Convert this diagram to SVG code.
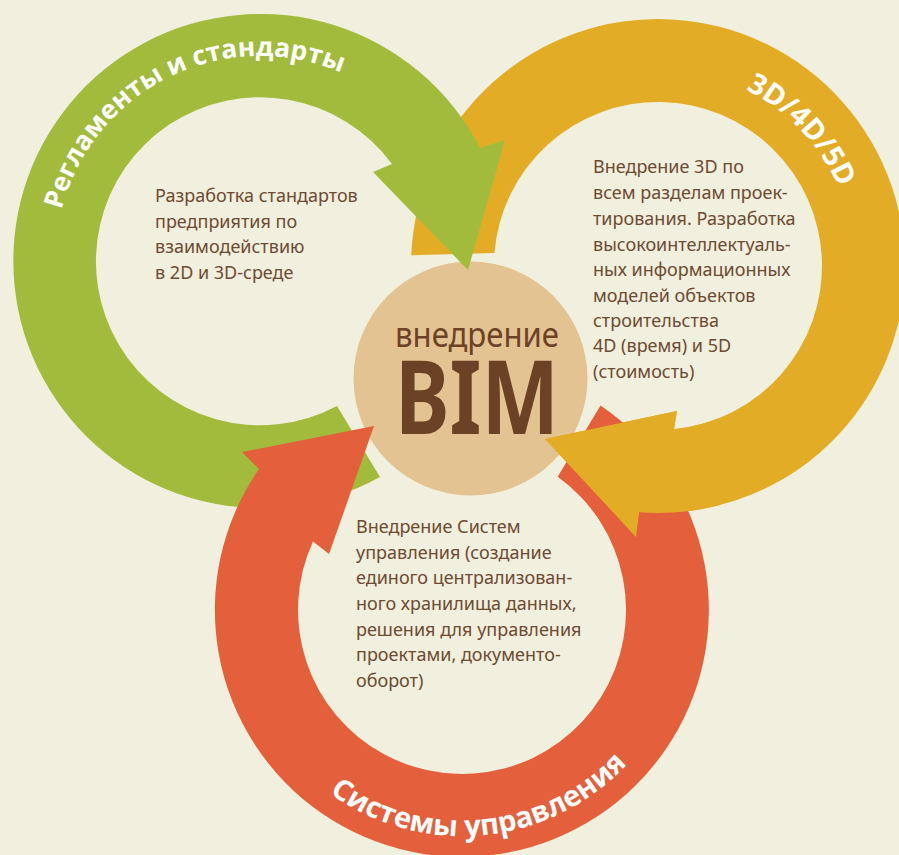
<svg xmlns="http://www.w3.org/2000/svg" xmlns:xlink="http://www.w3.org/1999/xlink" width="899" height="855" viewBox="0 0 899 855">
<style>
.bg{fill:#f1efdd}
.green{fill:#a2bb3d}
.orange{fill:#e3ac27}
.red{fill:#e4603c}
.hub{fill:#e4c392}
.body{font-family:"Noto Sans","Open Sans",sans-serif;font-size:18px;fill:#6d4a32}
.label{font-family:"Open Sans","Noto Sans",sans-serif;font-weight:700;fill:#ffffff}
.hubtxt{font-family:"Noto Sans","Open Sans",sans-serif;fill:#6c4226}
</style>
<defs>
<path id="p-green" d="M 58.1 225.4 A 205 205 0 0 1 362.5 83.5"/>
<path id="p-orange" d="M 692.2 72 A 197 197 0 0 1 853.5 242"/>
<path id="p-red" d="M 288.9 755.3 A 226 226 0 0 0 664.1 711.2"/>
<path id="arrow-orange" d="M 411.2 255.2 A 247 247 0 1 1 639.1 512.3 L 636 537 L 545 439 L 677 411 L 674 429.2 A 164 164 0 1 0 494.5 253.1 Z"/>
<clipPath id="clip-orange-head"><rect x="530" y="380" width="190" height="180"/></clipPath>
</defs>
<rect class="bg" x="0" y="0" width="899" height="855"/>

<g id="hub">
<circle class="hub" cx="470.5" cy="378.5" r="117"/>
<text class="hubtxt" x="477" y="347" font-size="34" text-anchor="middle" textLength="164" lengthAdjust="spacingAndGlyphs">внедрение</text>
<text class="hubtxt" x="477" y="434" font-size="103" font-weight="700" text-anchor="middle" textLength="164" lengthAdjust="spacingAndGlyphs">BIM</text>
</g>

<g id="connectors">
<g id="ring-3d">
<use xlink:href="#arrow-orange" class="orange"/>
<text class="label" font-size="29" font-weight="500"><textPath xlink:href="#p-orange" startOffset="50%" text-anchor="middle">3D/4D/5D</textPath></text>
<text class="body" x="593">
<tspan x="593" y="173.3">Внедрение 3D по</tspan>
<tspan x="593" y="199.3">всем разделам проек-</tspan>
<tspan x="593" y="225">тирования. Разработка</tspan>
<tspan x="593" y="250.7">высокоинтеллектуаль-</tspan>
<tspan x="593" y="276">ных информационных</tspan>
<tspan x="593" y="301.7">моделей объектов</tspan>
<tspan x="593" y="326.7">строительства</tspan>
<tspan x="593" y="352.3">4D (время) и 5D</tspan>
<tspan x="593" y="378.3">(стоимость)</tspan>
</text>
</g>

<g id="ring-standards">
<path class="green" d="M 380 477 A 247 247 0 1 1 480 148 L 505 140 L 468 270 L 373 172 L 392 164 A 164 164 0 1 0 337 406 Z"/>
<text class="label" font-size="26.5"><textPath xlink:href="#p-green" startOffset="49%" text-anchor="middle">Регламенты и стандарты</textPath></text>
<text class="body">
<tspan x="155" y="202">Разработка стандартов</tspan>
<tspan x="155" y="227.5">предприятия по</tspan>
<tspan x="155" y="253">взаимодействию</tspan>
<tspan x="155" y="278.5">в 2D и 3D-среде</tspan>
</text>
</g>

<g id="ring-management">
<path class="red" d="M 600.5 405.5 A 247 247 0 1 1 259 469 L 242 452 L 374 426 L 329 554 L 313 541.5 A 164 164 0 1 0 557.7 476.8 Z"/>
<text class="label" font-size="29"><textPath xlink:href="#p-red" startOffset="49%" text-anchor="middle">Системы управления</textPath></text>
<text class="body">
<tspan x="356" y="533.3">Внедрение Систем</tspan>
<tspan x="356" y="559">управления (создание</tspan>
<tspan x="356" y="584.3">единого централизован-</tspan>
<tspan x="356" y="610">ного хранилища данных,</tspan>
<tspan x="356" y="635.7">решения для управления</tspan>
<tspan x="356" y="660.7">проектами, документо-</tspan>
<tspan x="356" y="686.7">оборот)</tspan>
</text>
</g>

<g id="ring-3d-head">
<use xlink:href="#arrow-orange" class="orange" clip-path="url(#clip-orange-head)"/>
</g>
</g>
</svg>
